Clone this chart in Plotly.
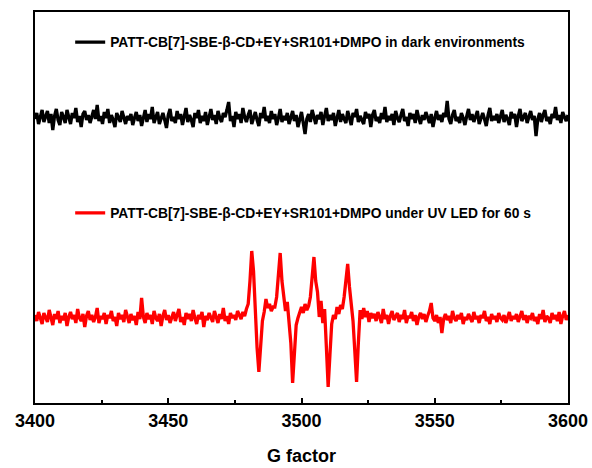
import numpy as np
import plotly.graph_objects as go

# Field sweep (G), evenly sampled, 3400-3600
field_start, field_end = 3400, 3600

dark_label = "PATT-CB[7]-SBE-β-CD+EY+SR101+DMPO in dark environments"
uv_label = "PATT-CB[7]-SBE-β-CD+EY+SR101+DMPO under UV LED for 60 s"

# Intensity (arb. units, offset traces)
dark_signal = [
    284, 290, 279, 288, 293, 281, 286, 292, 280, 289, 273, 287, 294, 283, 278, 291, 286, 280, 293, 284,
    279, 290, 285, 295, 281, 287, 276, 289, 292, 283, 288, 280, 286, 293, 284, 298, 282, 287, 279, 291,
    285, 294, 280, 288, 283, 276, 290, 286, 281, 292, 284, 279, 287, 283, 289, 278, 285, 291, 282, 288,
    277, 286, 293, 281, 289, 284, 296, 280, 287, 291, 279, 285, 290, 283, 275, 288, 294, 282, 286, 280,
    292, 284, 289, 278, 286, 295, 281, 288, 283, 276, 290, 285, 293, 280, 287, 282, 291, 278, 286, 294,
    283, 288, 279, 292, 285, 281, 290, 286, 293, 301, 282, 287, 276, 291, 284, 289, 280, 295, 286, 281,
    288, 293, 279, 286, 291, 283, 277, 290, 285, 296, 282, 287, 280, 292, 284, 289, 278, 285, 294, 281,
    287, 283, 290, 279, 286, 292, 282, 288, 276, 285, 291, 280, 269, 284, 289, 281, 293, 286, 279, 288,
    284, 291, 278, 287, 295, 282, 288, 283, 290, 277, 286, 293, 281, 289, 284, 280, 292, 285, 278, 290,
    286, 294, 281, 287, 283, 279, 291, 285, 289, 276, 288, 293, 282, 286, 280, 290, 284, 296, 281, 287,
    283, 289, 278, 292, 285, 281, 288, 294, 282, 286, 277, 290, 284, 289, 280, 293, 285, 279, 288, 283,
    291, 286, 280, 289, 276, 285, 292, 283, 288, 281, 290, 286, 302, 284, 279, 288, 293, 282, 286, 280,
    290, 285, 278, 287, 294, 283, 289, 281, 286, 292, 279, 285, 290, 284, 277, 288, 295, 282, 287, 283,
    289, 280, 286, 293, 281, 288, 284, 278, 291, 285, 289, 276, 287, 294, 282, 286, 290, 280, 285, 292,
    283, 287, 267, 284, 290, 281, 288, 293, 282, 286, 279, 289, 285, 296, 283, 288, 280, 291, 286, 282,
    288,
]

uv_signal = [
    88, 82, 91, 84, 79, 90, 86, 81, 93, 85, 78, 89, 84, 92, 80, 87, 83, 90, 77, 86,
    91, 84, 88, 80, 94, 85, 82, 89, 76, 87, 92, 83, 88, 81, 86, 95, 80, 87, 84, 90,
    79, 88, 85, 92, 82, 86, 77, 90, 84, 88, 81, 93, 85, 80, 89, 83, 87, 78, 91, 84,
    105, 86, 80, 90, 84, 88, 79, 92, 85, 82, 89, 77, 87, 93, 83, 88, 80, 86, 91, 82,
    87, 94, 81, 86, 78, 90, 84, 89, 82, 93, 85, 79, 88, 84, 91, 76, 87, 83, 90, 85,
    81, 92, 86, 80, 89, 84, 95, 82, 87, 79, 90, 85, 88, 83, 92,
    88, 84, 91, 87, 94, 99, 122, 152, 132, 90, 55, 31, 56, 82, 91, 104, 95, 99, 92, 96,
    96, 106, 128, 150, 122, 104, 92, 101, 78, 60, 20, 46, 78, 85, 92, 96, 90, 99, 93, 97,
    106, 124, 146, 122, 111, 86, 102, 80, 94, 56, 16, 48, 79, 88, 84, 96, 89, 98, 94, 106,
    124, 139, 116, 96, 82, 52, 21, 60, 93, 84, 95, 86, 92, 81, 90, 85,
    89, 82, 91, 86, 80, 94, 84, 88, 79, 87, 92, 83, 86, 90, 81, 88, 84, 93, 80, 87,
    85, 91, 82, 88, 78, 86, 90, 84, 89, 81, 87, 92, 100, 85, 82, 88, 80, 86, 70, 84,
    89, 83, 87, 80, 92, 85, 82, 88, 84, 90, 79, 86, 83, 89, 85, 81, 91, 84, 87, 80,
    88, 85, 92, 82, 86, 79, 89, 84, 87, 81, 90, 85, 83, 88, 80, 86, 91, 82, 87, 84,
    89, 81, 86, 92, 83, 88, 80, 87, 85, 90, 82, 86, 79, 89, 84, 93, 81, 87, 85, 80,
    90, 84, 88, 82, 91, 79, 87, 92, 83, 88,
]

x_tick_vals = [3400, 3450, 3500, 3550, 3600]
x_title = "G factor"

FONT = "Liberation Sans, Arial, sans-serif"

x_dark = np.linspace(field_start, field_end, len(dark_signal))
x_uv = np.linspace(field_start, field_end, len(uv_signal))

fig = go.Figure()
fig.add_trace(go.Scatter(x=x_dark, y=dark_signal, mode="lines", name=dark_label,
                         line=dict(color="black", width=3.3), legend="legend"))
fig.add_trace(go.Scatter(x=x_uv, y=uv_signal, mode="lines", name=uv_label,
                         line=dict(color="red", width=3.3), legend="legend2"))

legend_common = dict(font=dict(family=FONT, size=13.8, color="black", weight="bold"),
                     bgcolor="rgba(0,0,0,0)", xanchor="left", yanchor="middle",
                     itemwidth=30, tracegroupgap=0)
fig.update_layout(
    width=592, height=468,
    margin=dict(l=35, r=24, t=12, b=65, autoexpand=False),
    paper_bgcolor="white", plot_bgcolor="white",
    showlegend=True,
    legend=dict(x=0.066, y=0.923, **legend_common),
    legend2=dict(x=0.066, y=0.486, **legend_common),
    font=dict(family=FONT, color="black"),
)
fig.update_xaxes(
    range=[field_start, field_end], tickvals=x_tick_vals, automargin=False,
    ticks="inside", ticklen=5, tickwidth=2, tickcolor="black",
    minor=dict(dtick=25, ticks="inside", ticklen=3, tickwidth=2, tickcolor="black", tick0=3400),
    showline=True, linewidth=2, linecolor="black", mirror=True,
    showgrid=False, zeroline=False,
    tickfont=dict(family=FONT, size=18, color="black", weight="bold"),
    title=dict(text=x_title, font=dict(family=FONT, size=18, color="black", weight="bold"), standoff=20),
)
fig.update_yaxes(
    range=[0, 391], showticklabels=False, ticks="", automargin=False,
    showline=True, linewidth=2, linecolor="black", mirror=True,
    showgrid=False, zeroline=False,
)

fig.write_html("out.html")
